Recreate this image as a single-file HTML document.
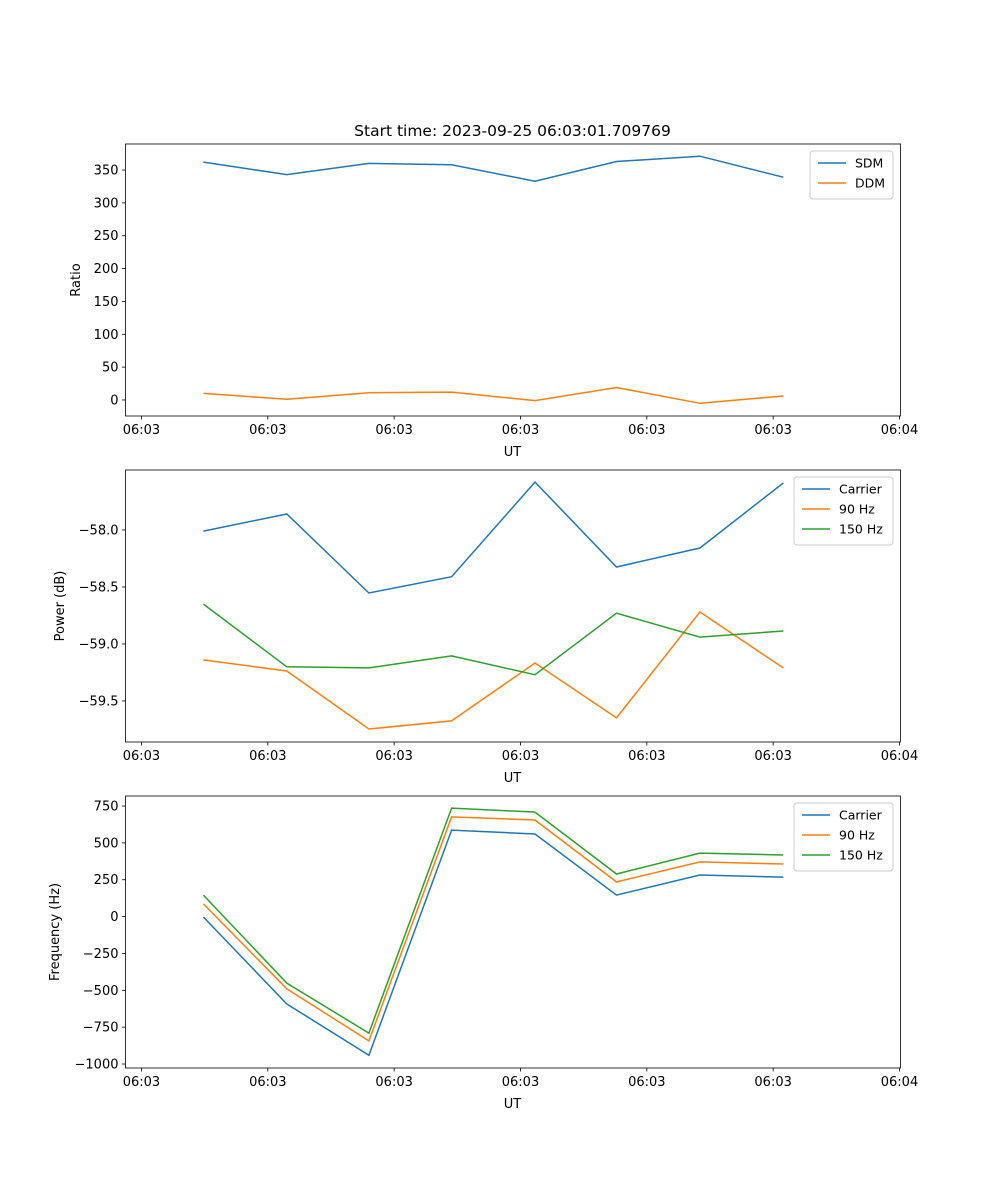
<!DOCTYPE html>
<html><head><meta charset="utf-8"><style>
html,body{margin:0;padding:0;background:#fff}
svg{display:block;font-family:"DejaVu Sans","Liberation Sans",sans-serif}
</style></head><body>
<svg id="fig" width="1000" height="1200" xmlns="http://www.w3.org/2000/svg">
<text x="512.5" y="136" text-anchor="middle" font-size="15.5">Start time: 2023-09-25 06:03:01.709769</text>
</svg>
<script>
const times = [0.98, 2.30, 3.60, 4.91, 6.23, 7.52, 8.84, 10.16];
const xTickVals = [0, 2, 4, 6, 8, 10, 12];
const xTickLabels = ["06:03","06:03","06:03","06:03","06:03","06:03","06:04"];
const sdm = [362, 343, 360, 358, 333, 363, 371, 339];
const ddm = [10, 1, 11, 12, -1, 19, -5, 6];
const ratioTicks = [0, 50, 100, 150, 200, 250, 300, 350];
const powCarrier = [-58.01, -57.86, -58.553, -58.41, -57.58, -58.325, -58.158, -57.588];
const pow90 = [-59.14, -59.237, -59.746, -59.675, -59.167, -59.649, -58.72, -59.21];
const pow150 = [-58.65, -59.20, -59.21, -59.105, -59.27, -58.73, -58.94, -58.886];
const powTicks = [-58.0, -58.5, -59.0, -59.5];
const powTickLabels = ["\u221258.0","\u221258.5","\u221259.0","\u221259.5"];
const freqCarrier = [-3, -593, -940, 587, 560, 146, 282, 268];
const freq90 = [86, -490, -843, 676, 655, 235, 371, 357];
const freq150 = [146, -451, -790, 736, 709, 289, 431, 418];
const freqTicks = [750, 500, 250, 0, -250, -500, -750, -1000];

const NS = "http://www.w3.org/2000/svg";
const svg = document.getElementById('fig');
function el(tag, attrs, parent){const e=document.createElementNS(NS,tag);for(const k in attrs)e.setAttribute(k,attrs[k]);(parent||svg).appendChild(e);return e;}
const L=125.5,R=900.5;
const xmin=-0.253,xmax=12.016;
const xs=v=>L+(v-xmin)/(xmax-xmin)*(R-L);
const C=['#1f77b4','#ff7f0e','#2ca02c'];

function panel(name, top, bot, ymin, ymax, yticks, ylabels, ylabel, series, names, legendW){
  const g=el('g',{});
  
  
  const ys=v=>bot-(v-ymin)/(ymax-ymin)*(bot-top);
  series.forEach((s,i)=>{
    const p=el('polyline',{points:s.map((v,j)=>xs(times[j]).toFixed(1)+','+ys(v).toFixed(1)).join(' '),fill:'none',stroke:C[i],'stroke-width':1.5},g);
    
    
  });
  el('rect',{x:L,y:top,width:R-L,height:bot-top,fill:'none',stroke:'#000','stroke-width':0.8},g);
  xTickVals.forEach((v,i)=>{
    const x=xs(v);
    el('line',{x1:x,x2:x,y1:bot,y2:bot+3.5,stroke:'#000','stroke-width':0.8},g);
    const t=el('text',{x:x,y:bot+18,'text-anchor':'middle','font-size':13},g);t.textContent=xTickLabels[i];
    
    
  });
  const xl=el('text',{x:512.5,y:bot+40,'text-anchor':'middle','font-size':13},g);xl.textContent='UT';
  
  
  yticks.forEach((v,i)=>{
    const y=ys(v);
    el('line',{x1:L-3.5,x2:L,y1:y,y2:y,stroke:'#000','stroke-width':0.8},g);
    const t=el('text',{x:L-7,y:y+4.5,'text-anchor':'end','font-size':13},g);t.textContent=ylabels[i];
    
    
  });
  const yl=el('text',{x:0,y:0,'text-anchor':'middle','font-size':13,transform:`translate(${ylabel.x},${(top+bot)/2}) rotate(-90)`},g);yl.textContent=ylabel.t;
  
  
  const lx=893-legendW, ly=top+7, lh=8+names.length*20;
  const lg=el('g',{},g);
  
  
  el('rect',{x:lx,y:ly,width:legendW,height:lh,rx:3,fill:'#fff','fill-opacity':0.8,stroke:'#ccc'},lg);
  names.forEach((n,i)=>{
    const yy=ly+12+i*20;
    el('line',{x1:lx+8,x2:lx+36,y1:yy,y2:yy,stroke:C[i],'stroke-width':1.5},lg);
    const t=el('text',{x:lx+45,y:yy+4.5,'font-size':12.5},lg);t.textContent=n;
    
    
  });
}
panel('ratio',144,416,-24.4,389.6,ratioTicks,ratioTicks.map(String),{x:80,t:'Ratio'},[sdm,ddm],['SDM','DDM'],83);
panel('power',470,742,-59.860,-57.474,powTicks,powTickLabels,{x:64,t:'Power (dB)'},[powCarrier,pow90,pow150],['Carrier','90 Hz','150 Hz'],99);
panel('frequency',796,1068,-1027,818,freqTicks,freqTicks.map(v=>v<0?'\u2212'+(-v):String(v)),{x:59,t:'Frequency (Hz)'},[freqCarrier,freq90,freq150],['Carrier','90 Hz','150 Hz'],99);
</script>
</body></html>
